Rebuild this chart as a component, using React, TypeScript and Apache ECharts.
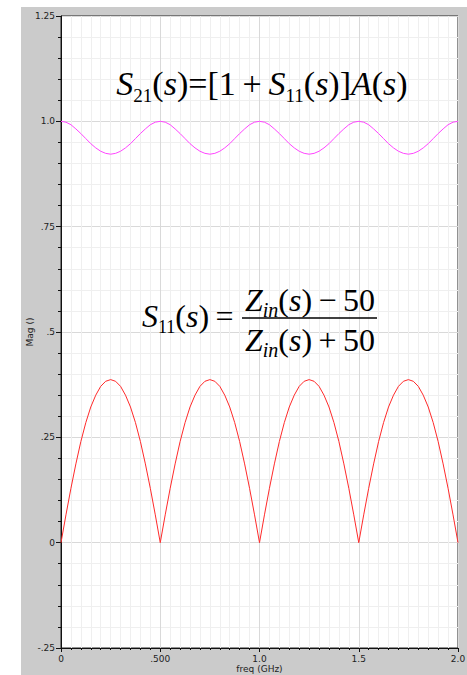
import React, { useEffect, useRef } from 'react';
import * as echarts from 'echarts';

// frequency samples (GHz)
const FREQ_GHZ = [
  0, 0.025, 0.05, 0.075, 0.1, 0.125, 0.15, 0.175, 0.2, 0.225,
  0.25, 0.275, 0.3, 0.325, 0.35, 0.375, 0.4, 0.425, 0.45, 0.475,
  0.5, 0.525, 0.55, 0.575, 0.6, 0.625, 0.65, 0.675, 0.7, 0.725,
  0.75, 0.775, 0.8, 0.825, 0.85, 0.875, 0.9, 0.925, 0.95, 0.975,
  1.0, 1.025, 1.05, 1.075, 1.1, 1.125, 1.15, 1.175, 1.2, 1.225,
  1.25, 1.275, 1.3, 1.325, 1.35, 1.375, 1.4, 1.425, 1.45, 1.475,
  1.5, 1.525, 1.55, 1.575, 1.6, 1.625, 1.65, 1.675, 1.7, 1.725,
  1.75, 1.775, 1.8, 1.825, 1.85, 1.875, 1.9, 1.925, 1.95, 1.975,
  2.0,
];

// |S11| (red)
const S11_MAG = [
  0, 0.066, 0.129, 0.187, 0.240, 0.285, 0.322, 0.350, 0.371, 0.383,
  0.387, 0.383, 0.371, 0.350, 0.322, 0.285, 0.240, 0.187, 0.129, 0.066,
  0, 0.066, 0.129, 0.187, 0.240, 0.285, 0.322, 0.350, 0.371, 0.383,
  0.387, 0.383, 0.371, 0.350, 0.322, 0.285, 0.240, 0.187, 0.129, 0.066,
  0, 0.066, 0.129, 0.187, 0.240, 0.285, 0.322, 0.350, 0.371, 0.383,
  0.387, 0.383, 0.371, 0.350, 0.322, 0.285, 0.240, 0.187, 0.129, 0.066,
  0, 0.066, 0.129, 0.187, 0.240, 0.285, 0.322, 0.350, 0.371, 0.383,
  0.387, 0.383, 0.371, 0.350, 0.322, 0.285, 0.240, 0.187, 0.129, 0.066,
  0,
];

// |S21| (magenta)
const S21_MAG = [
  1.0, 0.998, 0.992, 0.982, 0.971, 0.959, 0.947, 0.937, 0.929, 0.924,
  0.922, 0.924, 0.929, 0.937, 0.947, 0.959, 0.971, 0.982, 0.992, 0.998,
  1.0, 0.998, 0.992, 0.982, 0.971, 0.959, 0.947, 0.937, 0.929, 0.924,
  0.922, 0.924, 0.929, 0.937, 0.947, 0.959, 0.971, 0.982, 0.992, 0.998,
  1.0, 0.998, 0.992, 0.982, 0.971, 0.959, 0.947, 0.937, 0.929, 0.924,
  0.922, 0.924, 0.929, 0.937, 0.947, 0.959, 0.971, 0.982, 0.992, 0.998,
  1.0, 0.998, 0.992, 0.982, 0.971, 0.959, 0.947, 0.937, 0.929, 0.924,
  0.922, 0.924, 0.929, 0.937, 0.947, 0.959, 0.971, 0.982, 0.992, 0.998,
  1.0,
];

const X_TICKS = [0, 0.5, 1, 1.5, 2];
const X_TICK_LABELS = ['0', '.500', '1.0', '1.5', '2.0'];
const Y_TICKS = [-0.25, 0, 0.25, 0.5, 0.75, 1, 1.25];
const Y_TICK_LABELS = ['-.25', '0', '.25', '.5', '.75', '1.0', '1.25'];

const X_NAME = 'freq (GHz)';
const Y_NAME = 'Mag ()';

function tickLabel(v: number, ticks: number[], labels: string[]): string {
  for (let i = 0; i < ticks.length; i++) {
    if (Math.abs(ticks[i] - v) < 1e-6) return labels[i];
  }
  return '';
}

const SERIF = 'Liberation Serif';
const SANS = 'DejaVu Sans';
const TS = '\u2009'; // thin space

function mathRich(size: number, subSize: number, subH: number, lh: number) {
  return {
    i: { fontFamily: SERIF, fontStyle: 'italic', fontSize: size, lineHeight: lh, fill: '#000' },
    r: { fontFamily: SERIF, fontStyle: 'normal', fontSize: size, lineHeight: lh, fill: '#000' },
    sub: { fontFamily: SERIF, fontStyle: 'normal', fontSize: subSize, lineHeight: subH, verticalAlign: 'bottom', fill: '#000' },
    isub: { fontFamily: SERIF, fontStyle: 'italic', fontSize: subSize, lineHeight: subH, verticalAlign: 'bottom', fill: '#000' },
  };
}

function mathText(x: number, y: number, text: string, align: string, size: number, subSize: number, subH: number, lh: number) {
  return {
    type: 'text', x, y, z: 10,
    style: {
      text,
      rich: mathRich(size, subSize, subH, lh),
      fontFamily: SERIF, fontSize: size,
      fill: '#000',
      align, verticalAlign: 'middle',
    },
  };
}

export default function App() {
  const ref = useRef<HTMLDivElement>(null);

  useEffect(() => {
    if (!ref.current) return;
    const chart = echarts.init(ref.current, null, { renderer: 'svg' });
    const axisColor = '#111';
    const labelColor = '#222';

    const s11 = FREQ_GHZ.map((f, i) => [f, S11_MAG[i]]);
    const s21 = FREQ_GHZ.map((f, i) => [f, S21_MAG[i]]);

    const option: any = {
      animation: false,
      grid: {
        left: 61, right: 9, top: 16, bottom: 27,
        show: true, backgroundColor: '#ffffff', borderColor: '#222', borderWidth: 1,
        containLabel: false, outerBoundsMode: 'none',
      },
      xAxis: {
        type: 'value', min: 0, max: 2, interval: 0.5,
        name: X_NAME, nameLocation: 'middle', nameGap: 16, nameMoveOverlap: false,
        nameTextStyle: { fontSize: 9, color: labelColor, fontFamily: SANS },
        axisLine: { show: true, onZero: false, lineStyle: { color: axisColor, width: 1 } },
        axisTick: { show: true, length: 4, lineStyle: { color: axisColor } },
        minorTick: { show: true, splitNumber: 10, length: 2, lineStyle: { color: axisColor } },
        axisLabel: {
          fontSize: 9, color: labelColor, margin: 6, fontFamily: SANS,
          formatter: (v: number) => tickLabel(v, X_TICKS, X_TICK_LABELS),
        },
        splitLine: { show: true, lineStyle: { color: '#d9d9d9', width: 1 } },
        minorSplitLine: { show: true, lineStyle: { color: '#efefef', width: 1 } },
      },
      yAxis: {
        type: 'value', min: -0.25, max: 1.25, interval: 0.25,
        name: Y_NAME, nameLocation: 'middle', nameGap: 27, nameRotate: 90, nameMoveOverlap: false,
        nameTextStyle: { fontSize: 9, color: labelColor, fontFamily: SANS },
        axisLine: { show: true, onZero: false, lineStyle: { color: axisColor, width: 1 } },
        axisTick: { show: true, length: 5, lineStyle: { color: axisColor } },
        minorTick: { show: true, splitNumber: 5, length: 3, lineStyle: { color: axisColor } },
        axisLabel: {
          fontSize: 9, color: labelColor, margin: 6, fontFamily: SANS,
          formatter: (v: number) => tickLabel(v, Y_TICKS, Y_TICK_LABELS),
        },
        splitLine: { show: true, lineStyle: { color: '#d9d9d9', width: 1 } },
        minorSplitLine: { show: true, lineStyle: { color: '#efefef', width: 1 } },
      },
      series: [
        {
          name: 'S11', type: 'line', data: s11, showSymbol: false, symbol: 'none',
          lineStyle: { color: '#ff2a2a', width: 1 }, itemStyle: { color: '#ff2a2a' }, z: 3,
        },
        {
          name: 'S21', type: 'line', data: s21, showSymbol: false, symbol: 'none',
          lineStyle: { color: '#ff44ff', width: 1 }, itemStyle: { color: '#ff44ff' }, z: 3,
        },
      ],
      graphic: [
        mathText(262, 83, '{i|S}{sub|21}{r|(}{i|s}{r|)=[1' + TS + '+' + TS + '}{i|S}{sub|11}{r|(}{i|s}{r|)]}{i|A}{r|(}{i|s}{r|)}', 'center', 34, 19, 27, 44),
        mathText(142, 316, '{i|S}{sub|11}{r|(}{i|s}{r|)' + TS + '=}', 'left', 32, 18, 26, 40),
        mathText(245, 300, '{i|Z}{isub|in}{r|(}{i|s}{r|)' + TS + '−' + TS + '50}', 'left', 32, 20, 20, 40),
        mathText(245, 340, '{i|Z}{isub|in}{r|(}{i|s}{r|)' + TS + '+' + TS + '50}', 'left', 32, 20, 20, 40),
        {
          type: 'line', z: 10,
          shape: { x1: 242, y1: 318, x2: 377, y2: 318 },
          style: { stroke: '#000', lineWidth: 1.5 },
        },
      ],
    };

    chart.setOption(option);
    return () => chart.dispose();
  }, []);

  return (
    <div style={{ position: 'fixed', left: 0, top: 0, width: 467, height: 675, background: '#ffffff' }}>
      <div style={{ position: 'absolute', left: 21, top: 7, right: 0, bottom: 0, background: '#cbcbcb' }} />
      <div ref={ref} style={{ position: 'absolute', left: 0, top: 0, width: 467, height: 675 }} />
    </div>
  );
}
